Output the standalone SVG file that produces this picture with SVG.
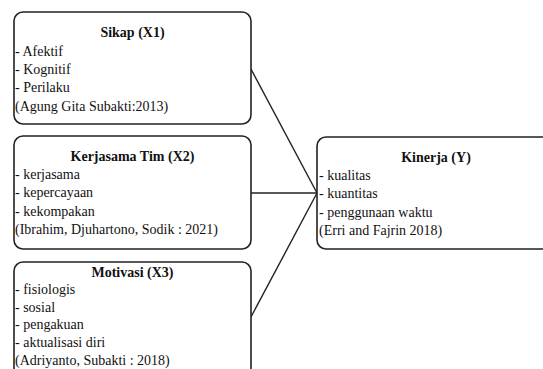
<svg xmlns="http://www.w3.org/2000/svg" width="543" height="369" viewBox="0 0 543 369">
<style>
.box{fill:#fff;stroke:#222;stroke-width:1.6}
.t{font-family:"Liberation Serif","Times New Roman",serif;font-size:14px;fill:#111}
.h{font-weight:bold;text-anchor:middle}
.c{fill:none;stroke:#222;stroke-width:1.4}
</style>
<rect width="543" height="369" fill="#fff"/>
<g id="connectors">
<line class="c" x1="251" y1="69" x2="317" y2="193"/>
<line class="c" x1="251" y1="193" x2="317" y2="193"/>
<line class="c" x1="251" y1="317" x2="317" y2="193"/>
</g>
<g id="sikap">
<rect class="box" x="14" y="12" width="237" height="112" rx="9"/>
<text class="t h" x="132.5" y="37">Sikap (X1)</text>
<text class="t" x="15" y="56">- Afektif</text>
<text class="t" x="15" y="74">- Kognitif</text>
<text class="t" x="15" y="92">- Perilaku</text>
<text class="t" x="15" y="111">(Agung Gita Subakti:2013)</text>
</g>
<g id="kerjasama">
<rect class="box" x="14" y="136" width="237" height="113" rx="9"/>
<text class="t h" x="132.5" y="161">Kerjasama Tim (X2)</text>
<text class="t" x="15" y="179">- kerjasama</text>
<text class="t" x="15" y="197">- kepercayaan</text>
<text class="t" x="15" y="216">- kekompakan</text>
<text class="t" x="15" y="234">(Ibrahim, Djuhartono, Sodik : 2021)</text>
</g>
<g id="motivasi">
<rect class="box" x="14" y="262" width="237" height="120" rx="9"/>
<text class="t h" x="132.5" y="277">Motivasi (X3)</text>
<text class="t" x="15" y="294">- fisiologis</text>
<text class="t" x="15" y="312">- sosial</text>
<text class="t" x="15" y="329">- pengakuan</text>
<text class="t" x="15" y="347">- aktualisasi diri</text>
<text class="t" x="15" y="365">(Adriyanto, Subakti : 2018)</text>
</g>
<g id="kinerja">
<rect class="box" x="317" y="137" width="238" height="112" rx="9"/>
<text class="t h" x="436" y="162">Kinerja (Y)</text>
<text class="t" x="319" y="180">- kualitas</text>
<text class="t" x="319" y="198">- kuantitas</text>
<text class="t" x="319" y="217">- penggunaan waktu</text>
<text class="t" x="319" y="235">(Erri and Fajrin 2018)</text>
</g>
</svg>
